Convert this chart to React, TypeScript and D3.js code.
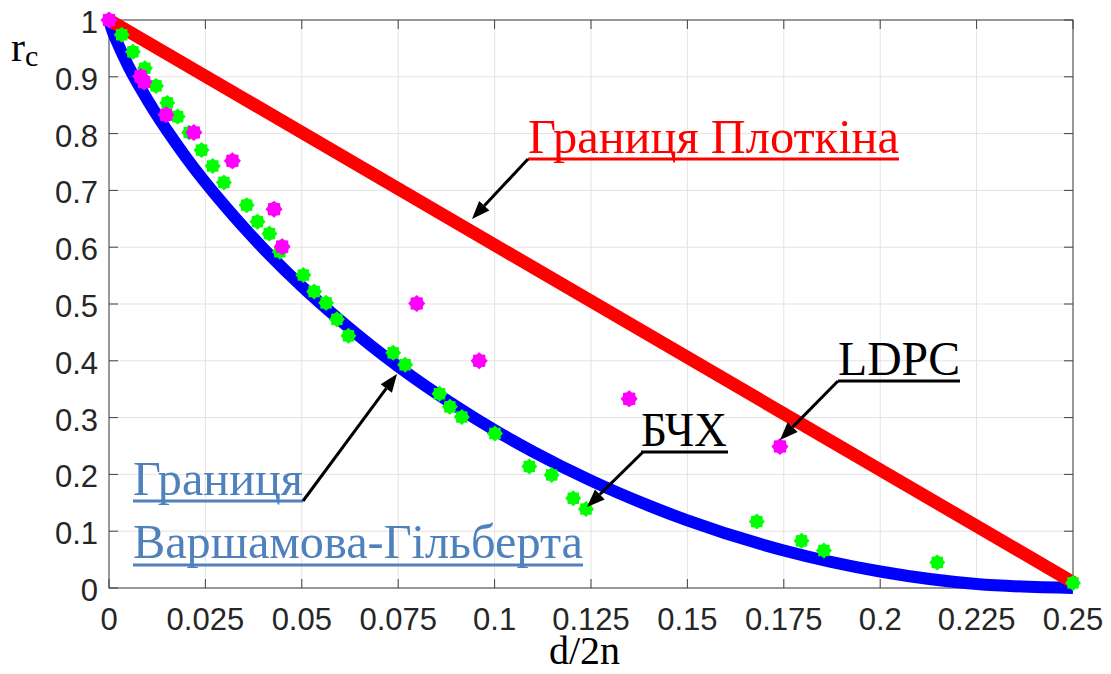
import React from "react";
import * as d3 from "d3";

const xTickValues = [0, 0.025, 0.05, 0.075, 0.1, 0.125, 0.15, 0.175, 0.2, 0.225, 0.25];
const xTickLabels = ["0", "0.025", "0.05", "0.075", "0.1", "0.125", "0.15", "0.175", "0.2", "0.225", "0.25"];
const yTickValues = [0, 0.1, 0.2, 0.3, 0.4, 0.5, 0.6, 0.7, 0.8, 0.9, 1];
const yTickLabels = ["0", "0.1", "0.2", "0.3", "0.4", "0.5", "0.6", "0.7", "0.8", "0.9", "1"];

// Plotkin bound (red)
const plotkinX = [0, 0.25];
const plotkinY = [1, 0.01];

// Varshamov-Gilbert bound (blue)
const gvX = [0, 0.001, 0.0025, 0.005, 0.01, 0.02, 0.03, 0.04, 0.05, 0.06, 0.075, 0.09, 0.1, 0.11, 0.125, 0.14, 0.15, 0.175, 0.2, 0.225, 0.25];
const gvY = [1, 0.979, 0.955, 0.919, 0.859, 0.758, 0.673, 0.598, 0.531, 0.471, 0.39, 0.32, 0.278, 0.24, 0.189, 0.145, 0.119, 0.066, 0.029, 0.007, 0.0];

// BCH codes (green)
const bchX = [0.0033, 0.0062, 0.0093, 0.0122, 0.0151, 0.0178, 0.0208, 0.024, 0.0269, 0.0298, 0.0357, 0.0385, 0.0416, 0.0443, 0.0504, 0.0532, 0.0563, 0.0591, 0.0621, 0.0737, 0.0768, 0.0857, 0.0884, 0.0915, 0.1001, 0.109, 0.1148, 0.1204, 0.1237, 0.168, 0.1796, 0.1854, 0.2148, 0.25];
const bchY = [0.974, 0.944, 0.915, 0.884, 0.854, 0.83, 0.802, 0.771, 0.743, 0.714, 0.674, 0.645, 0.624, 0.592, 0.551, 0.522, 0.502, 0.473, 0.444, 0.414, 0.393, 0.342, 0.319, 0.301, 0.272, 0.214, 0.199, 0.158, 0.139, 0.117, 0.083, 0.066, 0.045, 0.009];

// LDPC codes (magenta)
const ldpcX = [0, 0.0082, 0.0091, 0.0148, 0.022, 0.032, 0.0428, 0.0449, 0.0798, 0.096, 0.1349, 0.174];
const ldpcY = [1, 0.901, 0.891, 0.833, 0.802, 0.752, 0.667, 0.601, 0.501, 0.4, 0.333, 0.249];

const W = 1111;
const H = 674;
const left = 109, right = 1073, top = 20, bottom = 588;

function starPath(outer: number, inner: number, n: number) {
  const pts: [number, number][] = [];
  for (let i = 0; i < n * 2; i++) {
    pts.push([i * Math.PI / n, i % 2 === 0 ? outer : inner]);
  }
  return d3.lineRadial().curve(d3.curveLinearClosed)(pts) || "";
}

function Arrow({ x1, y1, x2, y2 }: { x1: number; y1: number; x2: number; y2: number }) {
  const ang = Math.atan2(y2 - y1, x2 - x1);
  const L = 18, Wd = 7;
  const bx = x2 - L * Math.cos(ang), by = y2 - L * Math.sin(ang);
  const px = -Math.sin(ang) * Wd, py = Math.cos(ang) * Wd;
  return (
    <g>
      <line x1={x1} y1={y1} x2={bx} y2={by} stroke="#000" strokeWidth={3} />
      <path d={`M${x2},${y2}L${bx + px},${by + py}L${bx - px},${by - py}Z`} fill="#000" />
    </g>
  );
}

export default function App() {
  const x = d3.scaleLinear().domain([0, 0.25]).range([left, right]);
  const y = d3.scaleLinear().domain([0, 1]).range([bottom, top]);
  const line = d3.line<[number, number]>().x(d => x(d[0])).y(d => y(d[1]));
  const gvLine = d3.line<[number, number]>().x(d => x(d[0])).y(d => y(d[1])).curve(d3.curveMonotoneX);
  const plotkinPts = plotkinX.map((v, i) => [v, plotkinY[i]] as [number, number]);
  const gvPts = gvX.map((v, i) => [v, gvY[i]] as [number, number]);
  const greenStar = starPath(8, 6.3, 8);
  const magStar = starPath(8.5, 6.8, 8);
  const axisColor = "#404040";
  const gridColor = "#e3e3e3";
  const tickFont = "'Liberation Sans', Arial, sans-serif";
  const serif = "'Liberation Serif', 'Times New Roman', serif";

  return (
    <div style={{ position: "absolute", left: 0, top: 0 }}>
      <svg width={W} height={H} style={{ display: "block", background: "#fff" }}>
        {/* grid */}
        {xTickValues.map((v, i) => (
          <line key={"gx" + i} x1={x(v)} x2={x(v)} y1={top} y2={bottom} stroke={gridColor} strokeWidth={1} />
        ))}
        {yTickValues.map((v, i) => (
          <line key={"gy" + i} x1={left} x2={right} y1={y(v)} y2={y(v)} stroke={gridColor} strokeWidth={1} />
        ))}
        {/* box */}
        <rect x={left} y={top} width={right - left} height={bottom - top} fill="none" stroke={axisColor} strokeWidth={1} />
        {/* ticks */}
        {xTickValues.map((v, i) => (
          <g key={"tx" + i}>
            <line x1={x(v)} x2={x(v)} y1={bottom} y2={bottom - 9} stroke={axisColor} />
            <line x1={x(v)} x2={x(v)} y1={top} y2={top + 9} stroke={axisColor} />
            <text x={x(v)} y={630} textAnchor="middle" fontFamily={tickFont} fontSize={31} fill="#262626">{xTickLabels[i]}</text>
          </g>
        ))}
        {yTickValues.map((v, i) => (
          <g key={"ty" + i}>
            <line x1={left} x2={left + 9} y1={y(v)} y2={y(v)} stroke={axisColor} />
            <line x1={right} x2={right - 9} y1={y(v)} y2={y(v)} stroke={axisColor} />
            <text x={98} y={y(v) + 13} textAnchor="end" fontFamily={tickFont} fontSize={31} fill="#262626">{yTickLabels[i]}</text>
          </g>
        ))}
        {/* axis labels */}
        <text x={11} y={61} fontFamily={serif} fontSize={42} fill="#000">r<tspan fontSize={30} dy={5}>c</tspan></text>
        <text x={549} y={664} fontFamily={serif} fontSize={40} fill="#000">d/2n</text>

        {/* curves */}
        <path d={gvLine(gvPts) || ""} fill="none" stroke="#0000ff" strokeWidth={12} />
        <path d={line(plotkinPts) || ""} fill="none" stroke="#ff0000" strokeWidth={13} />

        {/* points */}
        {bchX.map((v, i) => (
          <path key={"b" + i} d={greenStar} transform={`translate(${x(v)},${y(bchY[i])})`} fill="#00ff00" />
        ))}
        {ldpcX.map((v, i) => (
          <path key={"l" + i} d={magStar} transform={`translate(${x(v)},${y(ldpcY[i])})`} fill="#ff00ff" />
        ))}

        {/* annotations */}
        <text x={528} y={153} fontFamily={serif} fontSize={48} fill="#ff0000" textLength={371} lengthAdjust="spacingAndGlyphs">Границя Плоткіна</text>
        <line x1={528} x2={899} y1={159} y2={159} stroke="#ff0000" strokeWidth={3} />
        <Arrow x1={528} y1={159} x2={472} y2={219} />

        <text x={133} y={495} fontFamily={serif} fontSize={48} fill="#4f81bd" textLength={170} lengthAdjust="spacingAndGlyphs">Границя</text>
        <line x1={133} x2={303} y1={501} y2={501} stroke="#4f81bd" strokeWidth={3} />
        <text x={133} y={558} fontFamily={serif} fontSize={48} fill="#4f81bd" textLength={450} lengthAdjust="spacingAndGlyphs">Варшамова-Гільберта</text>
        <line x1={133} x2={583} y1={565} y2={565} stroke="#4f81bd" strokeWidth={3} />
        <Arrow x1={303} y1={501} x2={397} y2={374} />

        <text x={641} y={446} fontFamily={serif} fontSize={48} fill="#000" textLength={86} lengthAdjust="spacingAndGlyphs">БЧХ</text>
        <line x1={641} x2={728} y1={452} y2={452} stroke="#000" strokeWidth={3} />
        <Arrow x1={643} y1={452} x2={587} y2={507} />

        <text x={838} y={375} fontFamily={serif} fontSize={48} fill="#000" textLength={122} lengthAdjust="spacingAndGlyphs">LDPC</text>
        <line x1={838} x2={960} y1={381} y2={381} stroke="#000" strokeWidth={3} />
        <Arrow x1={838} y1={381} x2={780} y2={440} />
      </svg>
    </div>
  );
}
